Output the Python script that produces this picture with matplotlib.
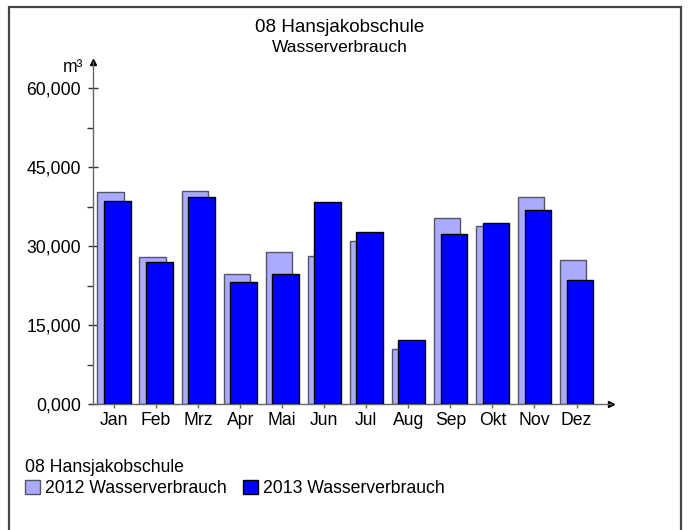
import matplotlib
matplotlib.use("Agg")
import matplotlib.pyplot as plt
from matplotlib.patches import Patch, Rectangle
import numpy as np

plt.rcParams['font.family'] = ['Liberation Sans', 'DejaVu Sans']

months = ["Jan", "Feb", "Mrz", "Apr", "Mai", "Jun", "Jul", "Aug", "Sep", "Okt", "Nov", "Dez"]
values_2012 = [40300, 27950, 40400, 24750, 28900, 28150, 30950, 10400, 35400, 33900, 39350, 27450]
values_2013 = [38650, 27000, 39250, 23100, 24750, 38300, 32600, 12200, 32350, 34450, 36900, 23650]
series_names = ["2012 Wasserverbrauch", "2013 Wasserverbrauch"]
y_ticks = [0, 15000, 30000, 45000, 60000]
y_tick_labels = ["0,000", "15,000", "30,000", "45,000", "60,000"]
title = "08 Hansjakobschule"
subtitle = "Wasserverbrauch"
unit = "m³"

W, H = 688, 530
fig = plt.figure(figsize=(W / 100, H / 100), dpi=100)

def fx(px):
    return px / W

def fy(py):
    return 1 - py / H

FS = 12.7

# outer frame
fig.patches.append(Rectangle((fx(9), fy(540)), fx(681) - fx(9), fy(7) - fy(540),
                             transform=fig.transFigure, fill=False,
                             edgecolor="#444444", linewidth=1.6))

ax = fig.add_axes([fx(93), fy(404), fx(611) - fx(93), fy(62) - fy(404)])
x = np.arange(len(months))
bw = 0.63
off = 0.08
ax.bar(x - off, values_2012, width=bw, color="#AAAAFF", edgecolor="#555566", linewidth=1.0, zorder=2)
ax.bar(x + off, values_2013, width=bw, color="#0000FF", edgecolor="#000000", linewidth=1.0, zorder=3)

ax.set_xlim(-0.5, 11.82)
ax.set_ylim(0, 65000)
for s in ["top", "right"]:
    ax.spines[s].set_visible(False)
for s in ["left", "bottom"]:
    ax.spines[s].set_color("#666666")
    ax.spines[s].set_linewidth(1.0)

ax.plot([0], [1], marker="^", color="black", markersize=5, transform=ax.transAxes, clip_on=False)
ax.plot([1], [0], marker=">", color="black", markersize=5, transform=ax.transAxes, clip_on=False)

ax.set_yticks(y_ticks)
ax.set_yticklabels(y_tick_labels, fontsize=FS)
ax.set_yticks(np.arange(7500, 64000, 15000), minor=True)
ax.tick_params(axis="y", which="major", direction="inout", length=7, width=1, color="#333333", pad=5)
ax.tick_params(axis="y", which="minor", direction="out", length=4, width=1, color="#333333")
ax.set_xticks(x)
ax.set_xticklabels(months, fontsize=FS)
ax.tick_params(axis="x", direction="out", length=3, width=1, color="#666666", pad=3)
ax.patch.set_alpha(0)

fig.text(fx(339.5), fy(27), title, ha="center", va="center", fontsize=13.6)
fig.text(fx(339.5), fy(48), subtitle, ha="center", va="center", fontsize=12.5)
fig.text(fx(83), fy(68), unit, ha="right", va="center", fontsize=FS)

handles = [Patch(facecolor="#AAAAFF", edgecolor="#555566"),
           Patch(facecolor="#0000FF", edgecolor="#000000")]
leg = fig.legend(handles, series_names, loc="upper left", bbox_to_anchor=(fx(11), fy(445)),
                 ncol=2, frameon=False, title=title, alignment="left",
                 fontsize=FS, title_fontsize=FS, handlelength=0.85, handleheight=0.85,
                 handletextpad=0.3, columnspacing=0.9, borderpad=0.3, labelspacing=0.2)

fig.savefig("out.png", dpi=100)
